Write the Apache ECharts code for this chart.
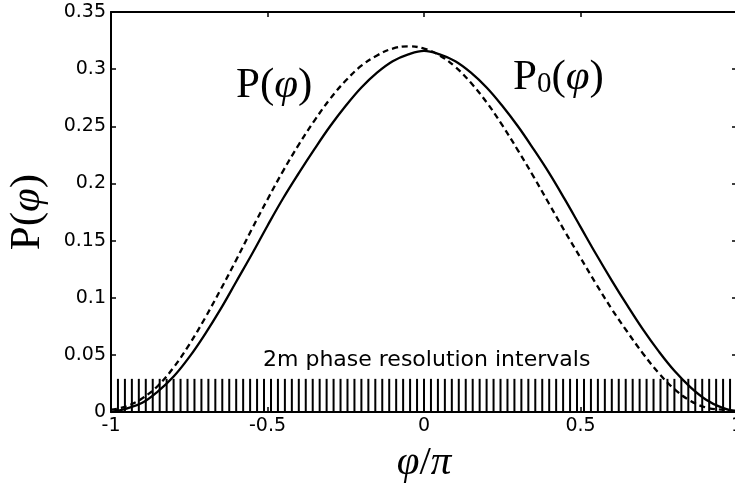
<!DOCTYPE html>
<html>
<head>
<meta charset="utf-8">
<script src="https://cdn.jsdelivr.net/npm/echarts@6/dist/echarts.min.js"></script>
<style>
html,body{margin:0;padding:0;background:#fff;}
#chart{width:735px;height:486px;}
</style>
</head>
<body>
<div id="chart"></div>
<script>
// phase phi/pi sample positions
const phiLeft = [-1,-0.95,-0.9,-0.85,-0.8,-0.75,-0.7,-0.65,-0.6,-0.55,-0.5,-0.45,-0.4,-0.35,-0.3,-0.25,-0.2,-0.15,-0.1,-0.05,0];
const phiRight = [0.05,0.1,0.15,0.2,0.25,0.3,0.35,0.4,0.45,0.5,0.55,0.6,0.65,0.7,0.75,0.8,0.85,0.9,0.95,1];
const phiValues = phiLeft.concat(phiRight);
// P0(phi) solid curve
const p0Values = [0,0.003,0.008,0.018,0.031,0.048,0.068,0.090,0.114,0.138,0.163,0.187,0.209,0.230,0.250,0.268,0.284,0.297,0.307,0.313,0.316,
  0.313,0.307,0.297,0.284,0.268,0.250,0.230,0.209,0.186,0.162,0.138,0.115,0.093,0.072,0.053,0.036,0.022,0.011,0.004,0];
// P(phi) dashed curve
const pValues = [0.002,0.005,0.012,0.023,0.039,0.059,0.082,0.107,0.133,0.160,0.186,0.211,0.234,0.255,0.274,0.290,0.303,0.312,0.318,0.320,0.318,
  0.312,0.302,0.288,0.271,0.251,0.229,0.206,0.182,0.158,0.135,0.112,0.090,0.070,0.051,0.034,0.020,0.010,0.004,0.002,0.001];
// phase resolution intervals (2m intervals over [-1, 1])
const intervalCount = 90;
const bandHeight = 0.029;
const xTicks = ['-1','-0.5','0','0.5','1'];
const yTicks = ['0','0.05','0.1','0.15','0.2','0.25','0.3','0.35'];

const intervalEdges = [];
for (let k = 0; k <= intervalCount; k++) intervalEdges.push([-1 + 2 * k / intervalCount, bandHeight]);

const chart = echarts.init(document.getElementById('chart'), null, {renderer: 'canvas'});
const labelFont = {color: '#000', fontFamily: 'DejaVu Sans', fontSize: 19};
const axisLine = {show: true, onZero: false, lineStyle: {color: '#000', width: 2}};
const tickIn = {show: true, inside: true, length: 5, lineStyle: {color: '#000', width: 1.5}};

chart.setOption({
  animation: false,
  backgroundColor: '#fff',
  grid: {left: 111, top: 12, right: -2, bottom: 74, containLabel: false, outerBoundsMode: 'none'},
  xAxis: [{
    type: 'value', min: -1, max: 1, interval: 0.5, position: 'bottom',
    axisLine: axisLine, axisTick: tickIn, splitLine: {show: false},
    axisLabel: Object.assign({margin: 5, formatter: function (v) { return xTicks[Math.round((v + 1) / 0.5)]; }}, labelFont),
    name: '{i|φ}{n|/}{i|π}', nameLocation: 'middle', nameGap: 31,
    nameTextStyle: {rich: {
      i: {fontFamily: 'Liberation Serif', fontStyle: 'italic', fontSize: 41, color: '#000'},
      n: {fontFamily: 'Liberation Serif', fontSize: 41, color: '#000'}
    }}
  }, {
    type: 'value', min: -1, max: 1, interval: 0.5, position: 'top',
    axisLine: axisLine, axisTick: tickIn, axisLabel: {show: false}, splitLine: {show: false}
  }],
  yAxis: [{
    type: 'value', min: 0, max: 0.35, interval: 0.05, position: 'left',
    axisLine: axisLine, axisTick: tickIn, splitLine: {show: false},
    axisLabel: Object.assign({margin: 5, formatter: function (v) { return yTicks[Math.round(v / 0.05)]; }}, labelFont),
    name: '{n|P(}{i|φ}{n|)}', nameLocation: 'middle', nameGap: 62, nameRotate: 90,
    nameTextStyle: {rich: {
      i: {fontFamily: 'Liberation Serif', fontStyle: 'italic', fontSize: 43, color: '#000'},
      n: {fontFamily: 'Liberation Serif', fontSize: 43, color: '#000'}
    }}
  }, {
    type: 'value', min: 0, max: 0.35, interval: 0.05, position: 'right',
    axisLine: axisLine, axisTick: tickIn, axisLabel: {show: false}, splitLine: {show: false}
  }],
  series: [{
    type: 'bar', xAxisIndex: 0, yAxisIndex: 0, data: intervalEdges,
    barWidth: 2, itemStyle: {color: '#000'}, silent: true, z: 1
  }, {
    type: 'line', name: 'P0', data: phiValues.map((x, i) => [x, p0Values[i]]),
    smooth: 0.4, showSymbol: false, lineStyle: {color: '#000', width: 2.3, type: 'solid'}, z: 3
  }, {
    type: 'line', name: 'P', data: phiValues.map((x, i) => [x, pValues[i]]),
    smooth: 0.4, showSymbol: false, lineStyle: {color: '#000', width: 2.3, type: [6, 4]}, z: 3
  }],
  graphic: [{
    type: 'text', left: 236, top: 64,
    style: {text: '{n|P(}{i|φ}{n|)}', rich: {
      i: {fontFamily: 'Liberation Serif', fontStyle: 'italic', fontSize: 43, fill: '#000'},
      n: {fontFamily: 'Liberation Serif', fontSize: 43, fill: '#000'}
    }}
  }, {
    type: 'text', left: 513, top: 56,
    style: {text: '{n|P}{s|0}{n|(}{i|φ}{n|)}', rich: {
      i: {fontFamily: 'Liberation Serif', fontStyle: 'italic', fontSize: 43, fill: '#000'},
      n: {fontFamily: 'Liberation Serif', fontSize: 43, fill: '#000'},
      s: {fontFamily: 'Liberation Serif', fontSize: 29, fill: '#000', padding: [14, 0, 0, 0]}
    }}
  }, {
    type: 'text', left: 263, top: 349,
    style: {text: '2m phase resolution intervals', font: '22px "DejaVu Sans"', fill: '#000'}
  }]
});
</script>
</body>
</html>
